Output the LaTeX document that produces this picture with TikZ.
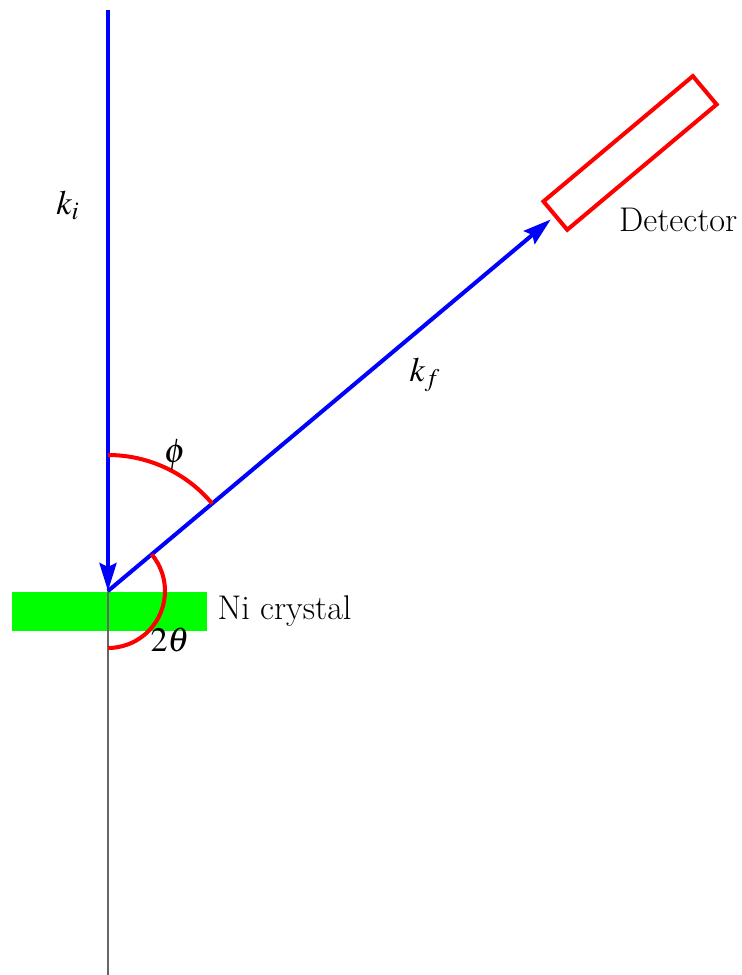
\documentclass[tikz,border=0pt]{standalone}
\usepackage{mathptmx}
\usetikzlibrary{arrows.meta, positioning}

\begin{document}
\begin{tikzpicture}[x=0.02cm, y=0.02cm, font=\fontsize{19.5}{23}\selectfont]
    % Define colours
    \definecolor{beamColour}{RGB}{0,0,255}
    \definecolor{arcColour}{RGB}{255,0,0}
    \definecolor{crystalColour}{RGB}{0,255,0}

    % Define angles and lengths
    \def\kfAngle{40}
    \def\kfLength{578}

    % Fix picture size
    \useasboundingbox (-108,-384) rectangle (634,591);

    % Define coordinates
    \coordinate (O) at (0,0);
    \coordinate (top) at (0,581);
    \coordinate (bottom) at (0,-384);
    \coordinate (kfEnd) at (\kfAngle:\kfLength);

    % Draw the crystal
    \node[rectangle, fill=crystalColour, minimum width=3.9cm, minimum height=0.78cm, inner sep=0pt]
        (crystal) at (1.5,-20.5) {};
    \node[right=0.08cm of crystal] (crystalLabel) {Ni crystal};

    % Draw the normal line
    \draw[black!60, line width=0.6pt] (top) -- (bottom);

    % Draw the beams
    \draw[beamColour, line width=2.3pt, -{Stealth[length=0.56cm, width=0.34cm, inset=0.08cm]}] (top) -- (O);
    \draw[beamColour, line width=2.3pt, -{Stealth[length=0.56cm, width=0.34cm, inset=0.08cm]}] (O) -- (kfEnd);

    % Draw the detector
    \node[draw=arcColour, line width=2.3pt, rectangle, rotate=\kfAngle, anchor=west,
        minimum width=3.9cm, minimum height=0.74cm, inner sep=0pt] (detector) at (\kfAngle:582) {};
    \node[anchor=west] (detectorLabel) at (505,371) {Detector};

    % Draw the angle arcs
    \draw[arcColour, line width=2.3pt] (0,136) arc (90:\kfAngle:136);
    \draw[arcColour, line width=2.3pt] (\kfAngle:57) arc (\kfAngle:-90:57);

    % Label beams and angles
    \node (kiLabel) at (-40,386) {$k_i$};
    \node (kfLabel) at (317,216) {$k_f$};
    \node (phiLabel) at (67,136) {$\phi$};
    \node (thetaLabel) at (62,-49) {$2\theta$};

\end{tikzpicture}
\end{document}
